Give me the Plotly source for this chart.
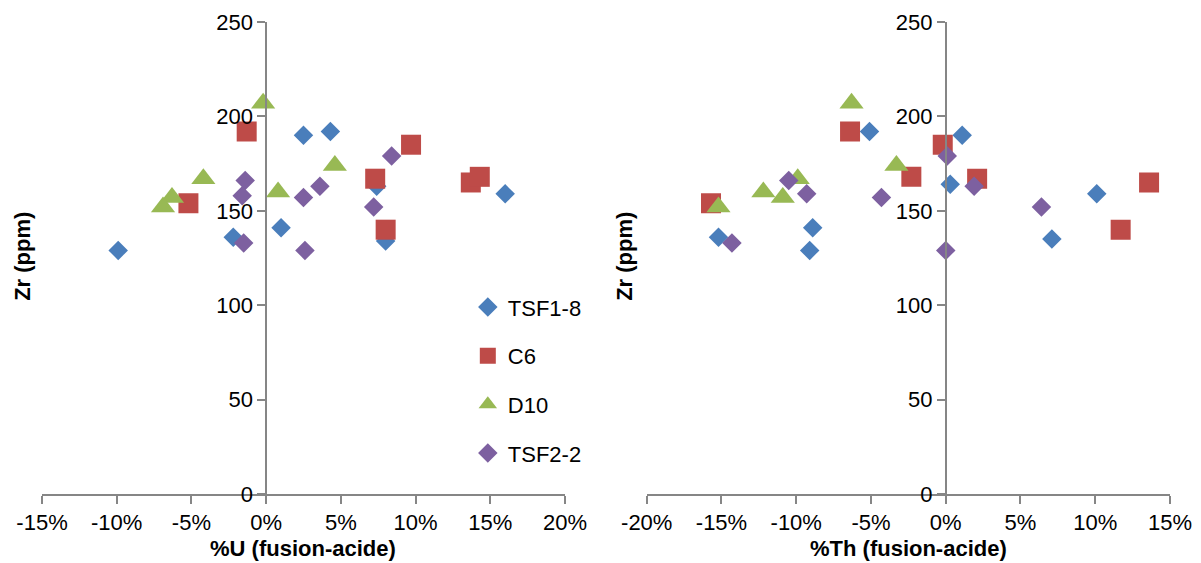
import plotly.graph_objects as go

# ---------------- data ----------------
series_names = ["TSF1-8", "C6", "D10", "TSF2-2"]
series_colors = ["#4A7EBB", "#BE4B48", "#98B954", "#7D60A0"]
series_symbols = ["diamond", "square", "triangle-up", "diamond"]
series_sizes = [15, 20, 21, 15]

# Left panel: %U (fusion-acide) vs Zr (ppm)
u_tsf18_x = [-9.9, -2.2, 1.0, 2.5, 4.3, 7.4, 8.0, 16.0]
u_tsf18_y = [129, 136, 141, 190, 192, 163, 134, 159]
u_c6_x = [-1.3, -5.2, 7.3, 8.0, 9.7, 13.7, 14.3]
u_c6_y = [192, 154, 167, 140, 185, 165, 168]
u_d10_x = [-0.2, -4.2, -6.3, -6.9, 0.8, 4.6]
u_d10_y = [207, 167, 157, 152, 160, 174]
u_tsf22_x = [-1.4, -1.6, -1.5, 2.5, 3.6, 2.6, 7.2, 8.4]
u_tsf22_y = [166, 158, 133, 157, 163, 129, 152, 179]

# Right panel: %Th (fusion-acide) vs Zr (ppm)
th_tsf18_x = [-15.2, -8.9, -9.1, -5.1, 1.1, 0.3, 7.1, 10.1]
th_tsf18_y = [136, 141, 129, 192, 190, 164, 135, 159]
th_c6_x = [-15.7, -6.4, -0.2, -2.3, 2.1, 11.7, 13.6]
th_c6_y = [154, 192, 185, 168, 167, 140, 165]
th_d10_x = [-6.3, -15.2, -12.2, -10.9, -9.9, -3.3]
th_d10_y = [207, 152, 160, 157, 167, 174]
th_tsf22_x = [-14.3, -10.5, -9.3, -4.3, 0.1, 0.0, 1.9, 6.4]
th_tsf22_y = [133, 166, 159, 157, 179, 129, 163, 152]

u_ticks = [-15, -10, -5, 0, 5, 10, 15, 20]
th_ticks = [-20, -15, -10, -5, 0, 5, 10, 15]
y_ticks = [0, 50, 100, 150, 200, 250]

x_title_left = "%U (fusion-acide)"
x_title_right = "%Th (fusion-acide)"
y_title = "Zr (ppm)"

# ---------------- figure ----------------
FONT = "Liberation Sans, Arial, sans-serif"
AXC = "#868686"
OFF = 8  # default page margin of the html body
W, H = 1201 - OFF, 563 - OFF
ML, MT = 42 - OFF, 22 - OFF
MR = W - (1170 - OFF)
MB = H - (494.3 - OFF)
left_dom = [0.0, 0.4636]
right_dom = [0.5361, 1.0]

fig = go.Figure()

left_data = [(u_tsf18_x, u_tsf18_y), (u_c6_x, u_c6_y), (u_d10_x, u_d10_y), (u_tsf22_x, u_tsf22_y)]
right_data = [(th_tsf18_x, th_tsf18_y), (th_c6_x, th_c6_y), (th_d10_x, th_d10_y), (th_tsf22_x, th_tsf22_y)]

for i, (xs, ys) in enumerate(left_data):
    fig.add_trace(go.Scatter(
        x=xs, y=ys, mode="markers", name=series_names[i],
        legendgroup=series_names[i],
        marker=dict(symbol=series_symbols[i], size=series_sizes[i],
                    color=series_colors[i], line=dict(width=0)),
        xaxis="x", yaxis="y"))
for i, (xs, ys) in enumerate(right_data):
    fig.add_trace(go.Scatter(
        x=xs, y=ys, mode="markers", name=series_names[i],
        legendgroup=series_names[i], showlegend=False,
        marker=dict(symbol=series_symbols[i], size=series_sizes[i],
                    color=series_colors[i], line=dict(width=0)),
        xaxis="x2", yaxis="y2"))


def zero_pos(dom, ticks):
    lo, hi = ticks[0], ticks[-1]
    return dom[0] + (0 - lo) / (hi - lo) * (dom[1] - dom[0])


def xax(dom, ticks, anchor):
    return dict(domain=dom, range=[ticks[0], ticks[-1]], anchor=anchor,
                tickvals=ticks, ticktext=[f"{t}%" for t in ticks],
                showline=True, linecolor=AXC, linewidth=1.5,
                ticks="outside", ticklen=8, tickwidth=1.5, tickcolor=AXC,
                showgrid=False, zeroline=False, automargin=False,
                tickfont=dict(family=FONT, size=22, color="black"))


def yax(pos):
    return dict(domain=[0, 1], range=[0, 250], anchor="free", position=pos,
                tickvals=y_ticks, ticktext=[str(t) for t in y_ticks],
                showline=True, linecolor=AXC, linewidth=1.5,
                ticks="outside", ticklen=8, tickwidth=1.5, tickcolor=AXC,
                showgrid=False, zeroline=False, automargin=False,
                tickfont=dict(family=FONT, size=22, color="black"))


fig.update_layout(
    width=W, height=H,
    margin=dict(l=ML, r=MR, t=MT, b=MB, autoexpand=False),
    paper_bgcolor="white", plot_bgcolor="white",
    font=dict(family=FONT, size=22, color="black"),
    xaxis=xax(left_dom, u_ticks, "y"),
    yaxis=yax(zero_pos(left_dom, u_ticks)),
    xaxis2=xax(right_dom, th_ticks, "y2"),
    yaxis2=yax(zero_pos(right_dom, th_ticks)),
    showlegend=True,
    legend=dict(x=0.3775, y=0.44, xanchor="left", yanchor="top",
                traceorder="grouped", tracegroupgap=17,
                font=dict(family=FONT, size=22, color="black"),
                bgcolor="rgba(0,0,0,0)"),
)

plot_w = W - ML - MR
plot_h = H - MT - MB
for dom, txt in [(left_dom, x_title_left), (right_dom, x_title_right)]:
    fig.add_annotation(x=(dom[0] + dom[1]) / 2, y=(494.3 - 549) / plot_h,
                       xref="paper", yref="paper", text=f"<b>{txt}</b>",
                       showarrow=False, xanchor="center", yanchor="middle",
                       font=dict(family=FONT, size=22, color="black"))
for px in [23, 625]:
    fig.add_annotation(x=(px - 42) / plot_w, y=(494.3 - 257) / plot_h,
                       xref="paper", yref="paper", text=f"<b>{y_title}</b>",
                       textangle=-90, showarrow=False,
                       xanchor="center", yanchor="middle",
                       font=dict(family=FONT, size=22, color="black"))

fig.write_html("out.html")
